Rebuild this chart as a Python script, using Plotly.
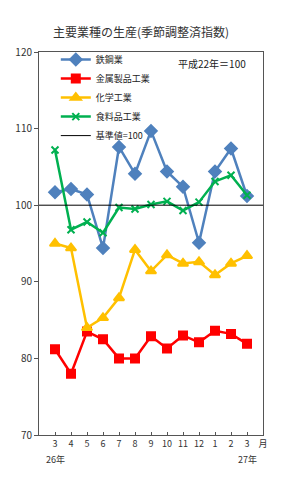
import plotly.graph_objects as go

months = ["3", "4", "5", "6", "7", "8", "9", "10", "11", "12", "1", "2", "3"]
unit_label = "月"
year_labels = ["26年", "27年"]

steel = [101.7, 102.1, 101.4, 94.4, 107.6, 104.1, 109.7, 104.4, 102.4, 95.1, 104.4, 107.4, 101.2]
metal = [81.2, 78.0, 83.5, 82.5, 80.0, 80.0, 82.9, 81.3, 83.0, 82.1, 83.6, 83.2, 81.9]
chem = [95.0, 94.4, 84.0, 85.3, 87.9, 94.2, 91.4, 93.5, 92.4, 92.6, 90.9, 92.4, 93.4]
food = [107.2, 96.8, 97.8, 96.4, 99.7, 99.5, 100.1, 100.5, 99.3, 100.4, 103.1, 103.9, 101.3]
baseline = 100

x = list(range(len(months)))
x_range = [-1, len(months)]
font = "Noto Sans CJK JP"

fig = go.Figure()
series = [
    ("鉄鋼業", steel, "#4F81BD", "diamond", 9),
    ("金属製品工業", metal, "#FF0000", "square", 8),
    ("化学工業", chem, "#FFC000", "triangle-up", 9),
    ("食料品工業", food, "#00B050", "x-thin", 7),
]
for name, vals, col, sym, sz in series:
    fig.add_trace(go.Scatter(
        x=x, y=vals, name=name, mode="lines+markers",
        line=dict(color=col, width=2.5),
        marker=dict(symbol=sym, size=sz, color=col, line=dict(color=col, width=2)),
    ))
fig.add_trace(go.Scatter(
    x=x_range, y=[baseline, baseline], name="基準値=100", mode="lines",
    line=dict(color="black", width=1),
))

fig.update_layout(
    width=289, height=480,
    margin=dict(l=39, r=26, t=52, b=45),
    paper_bgcolor="white", plot_bgcolor="white",
    font=dict(family=font, size=9, color="#333"),
    showlegend=True,
    legend=dict(x=0.075, y=1.018, xanchor="left", yanchor="top",
                bgcolor="rgba(0,0,0,0)", font=dict(size=9, color="#222"),
                itemwidth=30, tracegroupgap=0),
    title=dict(text="主要業種の生産(季節調整済指数)", x=0.488, xanchor="center",
               y=0.931, yanchor="middle", font=dict(size=12, color="#333")),
)
fig.update_xaxes(
    range=x_range, tickmode="array",
    tickvals=x + [len(months)], ticktext=months + [unit_label],
    showgrid=False, zeroline=False, showline=True, linecolor="#555", linewidth=1,
    mirror=True, ticks="inside", ticklen=3, tickcolor="#555",
    tickfont=dict(size=9, color="#333"),
)
fig.update_yaxes(
    range=[70, 120], dtick=10, showgrid=False, zeroline=False,
    showline=True, linecolor="#555", linewidth=1, mirror=True,
    ticks="outside", ticklen=4, tickcolor="#555",
    tickfont=dict(size=10, color="#333"),
)
for xi, lab in zip([x[0], x[-1]], year_labels):
    fig.add_annotation(x=xi, y=-0.065, xref="x", yref="paper", text=lab,
                       showarrow=False, font=dict(size=9, color="#333"),
                       yanchor="middle")
fig.add_annotation(x=0.935, y=0.97, xref="paper", yref="paper", text="平成22年＝100",
                   showarrow=False, xanchor="right", yanchor="middle",
                   font=dict(size=10, color="#222"))

fig.write_html("out.html")
